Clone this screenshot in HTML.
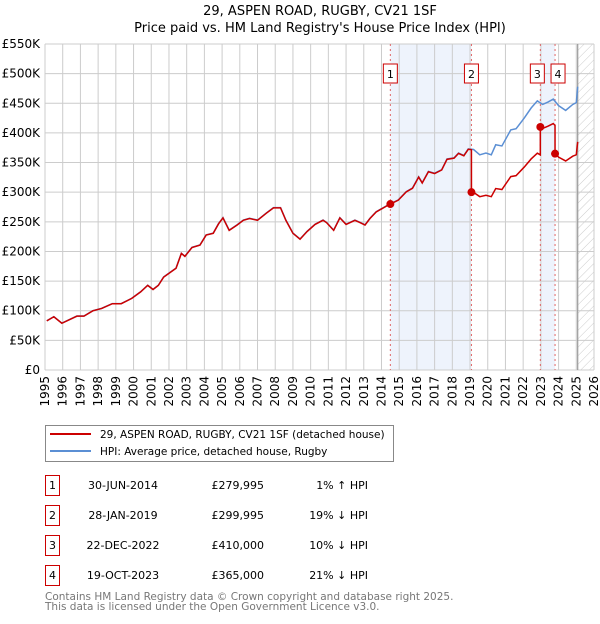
<!DOCTYPE html>
<html><head><meta charset="utf-8"><style>
body{margin:0;background:#fff;font-family:"DejaVu Sans","Liberation Sans",sans-serif;}
svg text{font-family:"DejaVu Sans","Liberation Sans",sans-serif;}
</style></head><body>
<svg id="c" width="600" height="620" xmlns="http://www.w3.org/2000/svg">
<defs><pattern id="hatch" width="6" height="6" patternUnits="userSpaceOnUse" patternTransform="rotate(45)"><line x1="0" y1="0" x2="0" y2="6" stroke="#ccc" stroke-width="1"/></pattern></defs>
<text x="320" y="15" text-anchor="middle" font-size="13" fill="#000">29, ASPEN ROAD, RUGBY, CV21 1SF</text>
<text x="320" y="32" text-anchor="middle" font-size="13" fill="#000">Price paid vs. HM Land Registry's House Price Index (HPI)</text>
<g id="plot"></g>
<g>
<rect x="45.5" y="425.5" width="348" height="36" fill="#fff" stroke="#888"/>
<line x1="50" y1="434" x2="91" y2="434" stroke="#cc0000" stroke-width="2"/>
<text x="100" y="438" font-size="10.5">29, ASPEN ROAD, RUGBY, CV21 1SF (detached house)</text>
<line x1="50" y1="451" x2="91" y2="451" stroke="#5b8fd4" stroke-width="2"/>
<text x="100" y="455" font-size="10.5">HPI: Average price, detached house, Rugby</text>
</g>
<g id="table"></g>
<text x="45" y="600" font-size="10.5" fill="#777">Contains HM Land Registry data © Crown copyright and database right 2025.</text>
<text x="45" y="610" font-size="10.5" fill="#777">This data is licensed under the Open Government Licence v3.0.</text>
</svg>
<script>
const hpiDates=[1995.1,1995.5,1995.95,1996.8,1997.2,1997.7,1998.2,1998.8,1999.3,1999.9,2000.4,2000.8,2001.1,2001.4,2001.7,2002.4,2002.7,2002.9,2003.3,2003.75,2004.1,2004.5,2004.8,2005.05,2005.4,2005.85,2006.2,2006.55,2007.0,2007.5,2007.9,2008.3,2008.6,2009.0,2009.4,2009.8,2010.25,2010.7,2010.9,2011.3,2011.65,2012.0,2012.5,2012.8,2013.07,2013.35,2013.7,2014.4,2014.95,2015.4,2015.75,2016.1,2016.3,2016.65,2017.0,2017.4,2017.7,2018.1,2018.35,2018.65,2018.9,2019.2,2019.55,2019.9,2020.2,2020.45,2020.8,2021.3,2021.6,2022.06,2022.45,2022.8,2023.1,2023.4,2023.7,2024.0,2024.4,2024.8,2025.0,2025.08];
const hpiValues=[83,90,79,91,91,100,104,112,112,121,132,143,136,143,157,172,197,192,207,211,228,231,247,257,236,245,253,256,253,265,274,274,253,231,221,234,246,253,249,236,257,246,253,249,245,256,267,279,287,301,307,326,316,335,332,338,356,358,366,362,373,372,363,366,363,380,378,405,407,425,442,454,448,452,457,446,438,448,451,478];
const saleDates=[2014.5,2019.08,2022.97,2023.8];
const salePrices=[279.995,299.995,410,365];
const saleLabels=["1","2","3","4"];
const saleDateText=["30-JUN-2014","28-JAN-2019","22-DEC-2022","19-OCT-2023"];
const salePriceText=["£279,995","£299,995","£410,000","£365,000"];
const saleHpiText=["1% ↑ HPI","19% ↓ HPI","10% ↓ HPI","21% ↓ HPI"];
const yTicks=[0,50,100,150,200,250,300,350,400,450,500,550];
const yTickLabels=["£0","£50K","£100K","£150K","£200K","£250K","£300K","£350K","£400K","£450K","£500K","£550K"];
const xYears=[1995,1996,1997,1998,1999,2000,2001,2002,2003,2004,2005,2006,2007,2008,2009,2010,2011,2012,2013,2014,2015,2016,2017,2018,2019,2020,2021,2022,2023,2024,2025,2026];

const L=45,R=594,T=44,B=370,dataEnd=2025.08;
const X=y=>L+(y-1995)/(2026-1995)*(R-L);
const Y=v=>B-v/550*(B-T);
const NS="http://www.w3.org/2000/svg";
const plot=document.getElementById('plot');
function el(tag,attrs,parent){const e=document.createElementNS(NS,tag);for(const k in attrs)e.setAttribute(k,attrs[k]);(parent||plot).appendChild(e);return e;}
function hpiAt(d){if(d<=hpiDates[0])return hpiValues[0];for(let i=1;i<hpiDates.length;i++){if(d<=hpiDates[i]){const t=(d-hpiDates[i-1])/(hpiDates[i]-hpiDates[i-1]);return hpiValues[i-1]+t*(hpiValues[i]-hpiValues[i-1]);}}return hpiValues[hpiValues.length-1];}

let s=el('rect',{x:X(saleDates[0]),y:T,width:X(saleDates[1])-X(saleDates[0]),height:B-T,fill:'#eef3fc'});


s=el('rect',{x:X(saleDates[2]),y:T,width:X(saleDates[3])-X(saleDates[2]),height:B-T,fill:'#eef3fc'});


s=el('rect',{x:X(dataEnd),y:T,width:R-X(dataEnd),height:B-T,fill:'url(#hatch)'});


yTicks.forEach((v,i)=>{
 const g=el('line',{x1:L,x2:R,y1:Y(v),y2:Y(v),stroke:'#ccc','stroke-width':1});
 
 
 const t=el('text',{x:L-5,y:Y(v)+4,'text-anchor':'end','font-size':12,fill:'#000'});
 t.textContent=yTickLabels[i];
 
 
});
xYears.forEach(yr=>{
 const g=el('line',{x1:X(yr),x2:X(yr),y1:T,y2:B,stroke:'#ccc','stroke-width':1});
 
 
 const t=el('text',{x:0,y:0,'text-anchor':'end','font-size':12,fill:'#000',transform:`translate(${X(yr)+4},${B+6}) rotate(-90)`});
 t.textContent=yr;
 
 
});
s=el('line',{x1:X(dataEnd),x2:X(dataEnd),y1:T,y2:B,stroke:'#999','stroke-width':1.2});


saleDates.forEach((d,i)=>{
 const l=el('line',{x1:X(d),x2:X(d),y1:T,y2:B,stroke:'#e06666','stroke-width':1,'stroke-dasharray':'2,3'});
 
 
});
let pts=hpiDates.map((d,i)=>X(d)+','+Y(hpiValues[i])).join(' ');
s=el('polyline',{points:pts,fill:'none',stroke:'#5b8fd4','stroke-width':1.5});


function factor(d){let k=0;for(let i=0;i<saleDates.length;i++)if(d>=saleDates[i])k=i;return salePrices[k]/hpiAt(saleDates[k]);}
let dates=hpiDates.concat(saleDates).concat(saleDates.map(d=>d-0.001)).sort((a,b)=>a-b);
pts=dates.map(d=>X(d)+','+Y(hpiAt(d)*factor(d))).join(' ');
s=el('polyline',{points:pts,fill:'none',stroke:'#cc0000','stroke-width':1.5});


saleDates.forEach((d,i)=>{
 const c=el('circle',{cx:X(d),cy:Y(salePrices[i]),r:4,fill:'#cc0000'});
 
 
});
const labelX=[X(saleDates[0])-7,X(saleDates[1])-7,X(saleDates[2])-10,X(saleDates[3])-4];
saleDates.forEach((d,i)=>{
 const g=el('g',{});
 
 
 el('rect',{x:labelX[i],y:64,width:14,height:19,fill:'#fff',stroke:'#cc0000'},g);
 const t=el('text',{x:labelX[i]+7,y:78,'text-anchor':'middle','font-size':11},g);
 t.textContent=saleLabels[i];
});
const tb=document.getElementById('table');
saleLabels.forEach((lab,i)=>{
 const y0=475+i*30;
 const g=el('g',{},tb);
 
 
 el('rect',{x:45.5,y:y0+0.5,width:14,height:20,fill:'#fff',stroke:'#cc0000'},g);
 let t=el('text',{x:52.5,y:y0+14,'text-anchor':'middle','font-size':11},g);t.textContent=lab;
 t=el('text',{x:123,y:y0+14,'text-anchor':'middle','font-size':11},g);t.textContent=saleDateText[i];
 t=el('text',{x:264,y:y0+14,'text-anchor':'end','font-size':11},g);t.textContent=salePriceText[i];
 t=el('text',{x:368,y:y0+14,'text-anchor':'end','font-size':11},g);t.textContent=saleHpiText[i];
});
</script>
</body></html>
